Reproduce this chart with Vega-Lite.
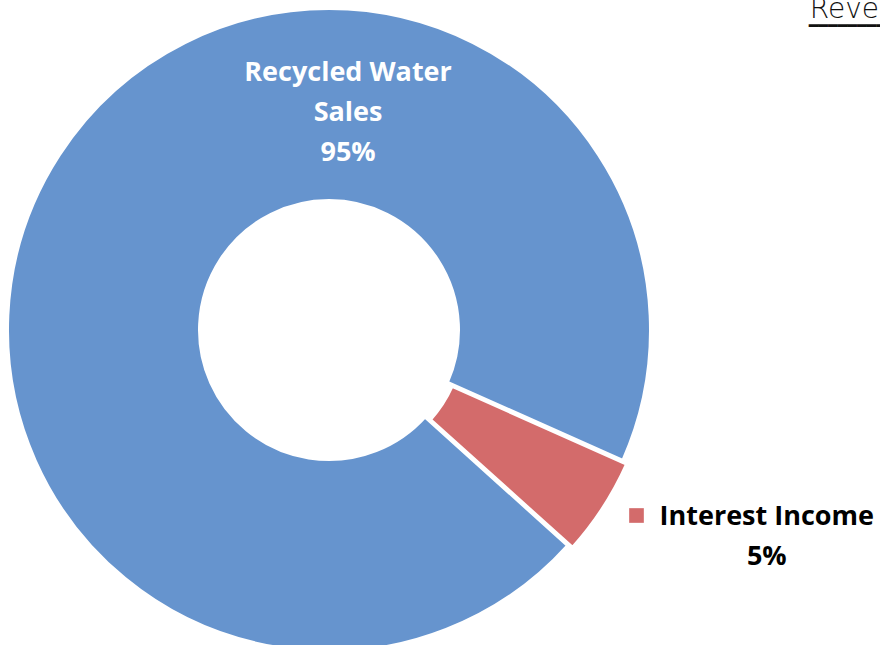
{
  "$schema": "https://vega.github.io/schema/vega-lite/v6.json",
  "width": 658,
  "height": 660,
  "autosize": {"type": "none"},
  "padding": {"left": 0, "top": 0, "right": 222, "bottom": 0},
  "background": "white",
  "config": {"view": {"stroke": null}},
  "datasets": {
    "slices": [
      {"category": "Interest Income", "value": 5, "label": "Interest Income\n5%"},
      {"category": "Recycled Water Sales", "value": 95, "label": "Recycled Water\nSales\n95%"}
    ],
    "heading": [{"text": "Revenues", "rule": "━━━━━━━━━━━━"}]
  },
  "layer": [
    {
      "data": {"name": "slices"},
      "transform": [
        {"stack": "value", "groupby": [], "sort": [{"field": "value", "order": "ascending"}], "as": ["t0", "t1"]},
        {"filter": "datum.category === 'Recycled Water Sales'"}
      ],
      "mark": {"type": "arc", "radius": 322, "radius2": 129, "stroke": "white", "strokeWidth": 4},
      "encoding": {
        "theta": {"field": "t0", "type": "quantitative", "scale": {"domain": [0, 100], "range": [1.9897, 8.2729]}},
        "theta2": {"field": "t1"},
        "color": {
          "field": "category", "type": "nominal",
          "scale": {"domain": ["Interest Income", "Recycled Water Sales"], "range": ["#D36B6B", "#6694CE"]},
          "legend": {"values": ["Interest Income"], "orient": "none", "legendX": 629, "legendY": 508, "title": null, "labelExpr": "''", "symbolType": "square", "symbolSize": 215, "symbolStrokeWidth": 0, "padding": 0, "symbolOffset": 0, "labelOffset": 0}
        }
      }
    },
    {
      "data": {"name": "slices"},
      "transform": [
        {"stack": "value", "groupby": [], "sort": [{"field": "value", "order": "ascending"}], "as": ["t0", "t1"]},
        {"filter": "datum.category === 'Interest Income'"}
      ],
      "mark": {"type": "arc", "radius": 321, "radius2": 129, "stroke": "white", "strokeWidth": 4, "xOffset": 5, "yOffset": 3.3},
      "encoding": {
        "theta": {"field": "t0", "type": "quantitative"},
        "theta2": {"field": "t1"},
        "color": {"field": "category", "type": "nominal"}
      }
    },
    {
      "data": {"name": "slices"},
      "transform": [
        {"stack": "value", "groupby": [], "sort": [{"field": "value", "order": "ascending"}], "as": ["t0", "t1"]},
        {"filter": "datum.category === 'Recycled Water Sales'"}
      ],
      "mark": {"type": "text", "font": "Open Sans", "fontWeight": "bold", "fontSize": 27, "fill": "white", "lineBreak": "\n", "lineHeight": 40, "radius": 258, "thetaOffset": -2.230, "align": "center", "baseline": "middle"},
      "encoding": {
        "theta": {"field": "t0", "type": "quantitative", "stack": null},
        "text": {"field": "label", "type": "nominal"}
      }
    },
    {
      "data": {"name": "slices"},
      "transform": [
        {"stack": "value", "groupby": [], "sort": [{"field": "value", "order": "ascending"}], "as": ["t0", "t1"]},
        {"filter": "datum.category === 'Interest Income'"}
      ],
      "mark": {"type": "text", "font": "Open Sans", "fontWeight": "bold", "fontSize": 27, "fill": "black", "lineBreak": "\n", "lineHeight": 40, "radius": 476, "thetaOffset": -0.0154, "align": "center", "baseline": "middle"},
      "encoding": {
        "theta": {"field": "t0", "type": "quantitative", "stack": null},
        "text": {"field": "label", "type": "nominal"}
      }
    },
    {
      "data": {"name": "heading"},
      "mark": {"type": "text", "font": "DejaVu Sans", "fontWeight": 200, "fontSize": 28, "fill": "#111111", "align": "left", "baseline": "alphabetic", "radius": 573, "theta": 0.9954},
      "encoding": {"text": {"field": "text", "type": "nominal"}}
    },
    {
      "data": {"name": "heading"},
      "mark": {"type": "text", "font": "DejaVu Sans", "fontSize": 16, "fill": "#111111", "align": "left", "baseline": "alphabetic", "radius": 573, "theta": 0.9954, "dy": 12.5, "dx": -1},
      "encoding": {"text": {"field": "rule", "type": "nominal"}}
    }
  ]
}
